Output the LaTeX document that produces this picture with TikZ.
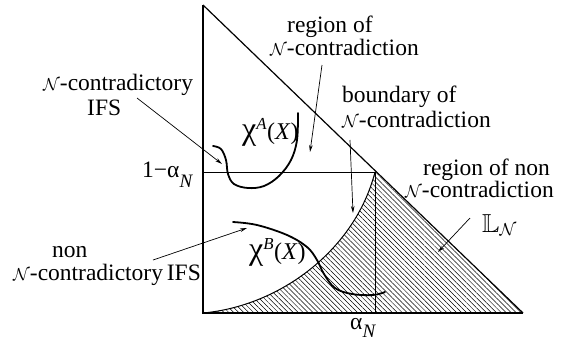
\documentclass[tikz,border=0pt]{standalone}
\usepackage{amssymb}
\usepackage{fontspec}
\setmainfont{Liberation Serif}
\usetikzlibrary{arrows.meta,patterns.meta}
\newcommand{\calN}{{\fontsize{18.5}{18.5}\selectfont$\mathcal{N}$}}
\newcommand{\bigchi}{{\fontsize{32}{32}\selectfont χ}}
\newcommand{\subN}[1]{\raisebox{#1}{\fontsize{19}{19}\selectfont\textit{N}}}
\tikzset{
  lbl/.style={anchor=base west,inner sep=0,font=\fontsize{23.5}{25}\selectfont},
  chilbl/.style={anchor=base west,inner sep=0,font=\fontsize{24}{24}\selectfont},
  pointer/.style={line width=0.7pt,-{Stealth[length=7pt,width=3.6pt]}},
  curveline/.style={line width=1.8pt,line cap=round},
  frameline/.style={line width=1.8pt},
  thinline/.style={line width=1pt}
}
\begin{document}
\begin{tikzpicture}[x=1pt,y=-1pt]
\useasboundingbox (0,0) rectangle (567,341);
% key points
\coordinate (top) at (203,5);
\coordinate (org) at (203,313);
\coordinate (rgt) at (523,313);
\coordinate (hA) at (203,172);
\coordinate (hB) at (375,172);
\coordinate (vB) at (375,313);
% hatched region
\fill[pattern={Lines[angle=-45,distance=3.5pt,line width=0.5pt]}]
  (org) .. controls (280,306) and (355,250) .. (hB) -- (rgt) -- cycle;
\draw[thinline] (org) .. controls (280,306) and (355,250) .. (hB);
% frame
\draw[frameline] (top) -- (org) -- (rgt);
\draw[line width=1.2pt] (top) -- (rgt);
\draw[thinline] (hA) -- (hB);
\draw[thinline] (hB) -- (vB);
% curves
\draw[curveline] plot[smooth,tension=0.6] coordinates {(213,146) (221,149) (226,160) (228,174) (234,184) (248,188) (264,186) (279,176) (291,160) (297,140) (298,113)};
\draw[curveline] plot[smooth,tension=0.6] coordinates {(233,222) (257,225) (287,235) (307,247) (317,260) (324,274) (335,288) (352,294) (373,295) (385,292)};
% curve labels
\node[chilbl] (chiA) at (242,139) {\bigchi\textsuperscript{\textit{A}}(\textit{X})};
\node[chilbl] (chiB) at (249,259) {\bigchi\textsuperscript{\textit{B}}(\textit{X})};
% axis labels
\node[lbl] (oneminus) at (142,177) {1−α\subN{-10pt}};
\node[lbl] (alphaN) at (350,329) {α\subN{-8pt}};
% text labels
\node[lbl] (cA1) at (43,90) {\calN-contradictory};
\node[lbl] (cA2) at (87,115) {IFS};
\node[lbl] (rg1) at (287,32) {region of};
\node[lbl] (rg2) at (270,55) {\calN-contradiction};
\node[lbl] (bd1) at (342,102) {boundary of};
\node[lbl] (bd2) at (342,127) {\calN-contradiction};
\node[lbl] (nr1) at (423,175) {region of non};
\node[lbl] (nr2) at (405,197) {\calN-contradiction};
\node[anchor=base west,inner sep=0,font=\fontsize{26}{26}\selectfont] (LL) at (482,232) {$\mathbb{L}_{\mathcal{N}}$};
\node[lbl] (nn1) at (52,257) {non};
\node[lbl] (nn2) at (13,280) {\calN-contradictory\kern-2pt\ IFS};
% arrows
\coordinate (a1s) at (137,98);  \coordinate (a1e) at (222,164);
\coordinate (a2s) at (322,65);  \coordinate (a2e) at (310,152);
\coordinate (a3s) at (350,140); \coordinate (a3e) at (353,213);
\coordinate (a4s) at (470,218); \coordinate (a4e) at (438,252);
\coordinate (a5s) at (153,260); \coordinate (a5e) at (247,228);
\draw[pointer] (a1s) -- (a1e);
\draw[pointer] (a2s) -- (a2e);
\draw[pointer] (a3s) -- (a3e);
\draw[pointer] (a4s) -- (a4e);
\draw[pointer] (a5s) -- (a5e);
\end{tikzpicture}
\end{document}
